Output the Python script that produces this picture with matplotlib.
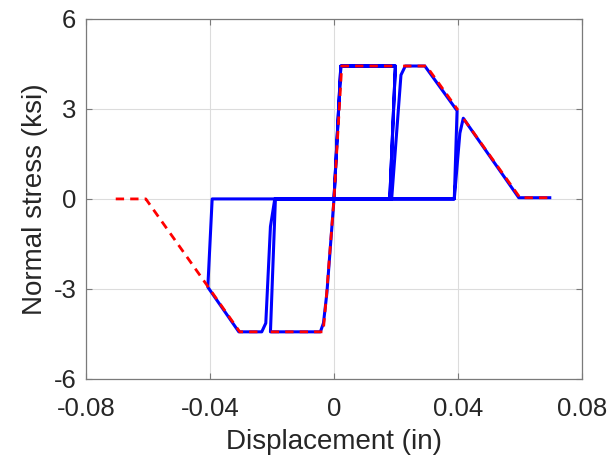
import numpy as np
import matplotlib
matplotlib.use("Agg")
import matplotlib.pyplot as plt

plt.rcParams['font.family'] = ['Liberation Sans', 'DejaVu Sans']

# Cyclic response (blue)
cyc_x = [0.0, 0.0022, 0.0198, 0.0180, -0.0189, -0.0205, -0.0044, -0.0034, -0.0023, 0.0,
         0.0022, 0.0198, 0.0180, 0.0186, 0.0216, 0.0230, 0.0293, 0.0397, 0.0388,
         -0.0393, -0.0407, -0.0307, -0.0233, -0.0220, -0.0205, -0.0191,
         0.0388, 0.0406, 0.0417, 0.0596, 0.0696]
cyc_y = [0.0, 4.43, 4.43, 0.0, 0.0, -4.43, -4.43, -4.14, -3.14, 0.0,
         4.43, 4.43, 0.0, 0.0, 4.13, 4.43, 4.43, 2.94, 0.0,
         0.0, -2.94, -4.43, -4.43, -4.14, -0.92, 0.0,
         0.0, 2.19, 2.69, 0.04, 0.04]

# Envelope (red dashed), NaN separates pieces
env_x = [-0.0704, -0.0607, -0.0406, -0.0304, -0.0228, np.nan,
         -0.0204, -0.0035, -0.0024, 0.0, 0.0025, 0.0199, np.nan,
         0.0223, 0.0298, 0.0400, np.nan,
         0.0419, 0.0600, 0.0700]
env_y = [0.0, 0.0, -2.93, -4.43, -4.43, np.nan,
         -4.43, -4.43, -3.19, 0.0, 4.43, 4.43, np.nan,
         4.43, 4.43, 2.96, np.nan,
         2.66, 0.04, 0.04]

xticks = [-0.08, -0.04, 0, 0.04, 0.08]
xtick_labels = ['-0.08', '-0.04', '0', '0.04', '0.08']
yticks = [-6, -3, 0, 3, 6]
ytick_labels = ['-6', '-3', '0', '3', '6']

fig = plt.figure(figsize=(6.12, 4.61), dpi=100)
ax = fig.add_axes([0.1405, 0.178, 0.951 - 0.1405, 0.959 - 0.178])

ax.plot(cyc_x, cyc_y, color='#0000ff', lw=2.2, solid_joinstyle='round', zorder=3)
ax.plot(env_x, env_y, color='#ff0000', lw=2.0, linestyle=(0, (3, 2.2)), zorder=4)

ax.set_xlim(-0.08, 0.08)
ax.set_ylim(-6, 6)
ax.set_xticks(xticks)
ax.set_xticklabels(xtick_labels)
ax.set_yticks(yticks)
ax.set_yticklabels(ytick_labels)

ax.grid(True, color='#dcdcdc', lw=0.8)
ax.set_axisbelow(True)
for s in ax.spines.values():
    s.set_color('#7a7a7a')
    s.set_linewidth(0.9)
ax.tick_params(direction='in', length=4, width=0.8, color='#7a7a7a',
               labelsize=18.5, labelcolor='#262626', top=True, right=True)
ax.tick_params(axis='x', pad=13)
ax.tick_params(axis='y', pad=7)

ax.set_xlabel('Displacement (in)', fontsize=20, color='#262626', labelpad=6)
ax.set_ylabel('Normal stress (ksi)', fontsize=20, color='#262626', labelpad=4)

fig.savefig('out.png', dpi=100)
